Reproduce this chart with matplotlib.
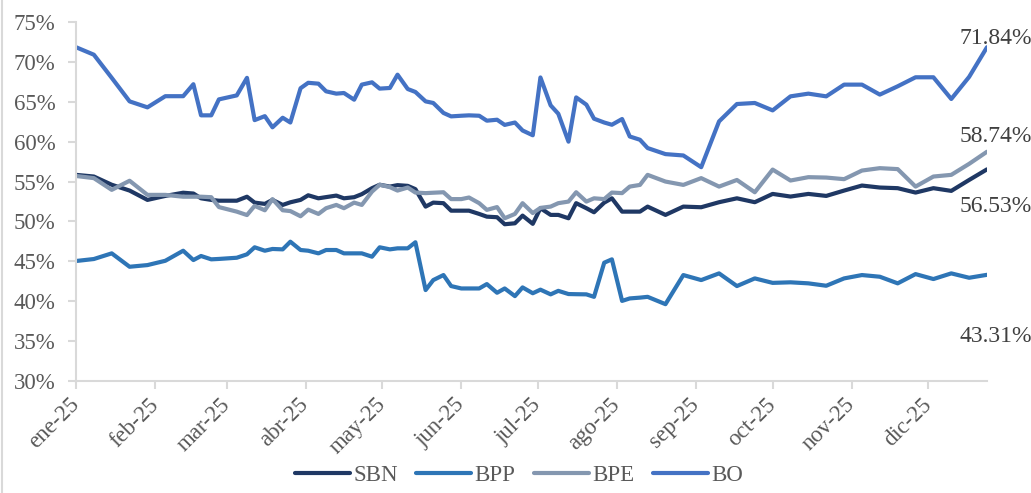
import matplotlib
matplotlib.use("Agg")
import matplotlib.pyplot as plt
from matplotlib.lines import Line2D
from matplotlib.ticker import FuncFormatter
from datetime import date

plt.rcParams["font.family"] = ["Liberation Serif", "DejaVu Serif"]

# Fechas de observación (2025)
fechas = [
    "2025-01-02", "2025-01-09", "2025-01-16", "2025-01-23", "2025-01-30",
    "2025-02-06", "2025-02-13", "2025-02-17", "2025-02-20", "2025-02-24",
    "2025-02-27", "2025-03-06", "2025-03-10", "2025-03-13", "2025-03-17",
    "2025-03-20", "2025-03-24", "2025-03-27", "2025-03-31", "2025-04-03",
    "2025-04-07", "2025-04-10", "2025-04-14", "2025-04-17", "2025-04-21",
    "2025-04-24", "2025-04-28", "2025-05-01", "2025-05-05", "2025-05-08",
    "2025-05-12", "2025-05-15", "2025-05-19", "2025-05-22", "2025-05-26",
    "2025-05-29", "2025-06-02", "2025-06-05", "2025-06-09", "2025-06-12",
    "2025-06-16", "2025-06-19", "2025-06-23", "2025-06-26", "2025-06-30",
    "2025-07-03", "2025-07-07", "2025-07-10", "2025-07-14", "2025-07-17",
    "2025-07-21", "2025-07-24", "2025-07-28", "2025-07-31", "2025-08-04",
    "2025-08-07", "2025-08-11", "2025-08-14", "2025-08-21", "2025-08-28",
    "2025-09-04", "2025-09-11", "2025-09-18", "2025-09-25", "2025-10-02",
    "2025-10-09", "2025-10-16", "2025-10-23", "2025-10-30", "2025-11-06",
    "2025-11-13", "2025-11-20", "2025-11-27", "2025-12-04", "2025-12-11",
    "2025-12-18", "2025-12-25",
]

# Series en porcentaje
sbn = [
    55.84, 55.63, 54.60, 53.87, 52.70, 53.20, 53.60, 53.50, 52.90, 52.70,
    52.60, 52.60, 53.10, 52.36, 52.20, 52.70, 52.07, 52.40, 52.70, 53.28,
    52.90, 53.05, 53.24, 52.90, 53.04, 53.42, 54.17, 54.60, 54.37, 54.55,
    54.46, 54.05, 51.86, 52.36, 52.29, 51.35, 51.35, 51.35, 50.94, 50.60,
    50.53, 49.65, 49.77, 50.73, 49.70, 51.66, 50.82, 50.82, 50.40, 52.29,
    51.66, 51.15, 52.36, 52.90, 51.23, 51.23, 51.23, 51.86, 50.82, 51.86,
    51.78, 52.41, 52.90, 52.41, 53.45, 53.12, 53.45, 53.20, 53.87, 54.50,
    54.25, 54.17, 53.62, 54.17, 53.83, 55.20, 56.53,
]
bpp = [
    45.04, 45.29, 46.00, 44.32, 44.53, 45.07, 46.33, 45.16, 45.67, 45.25,
    45.30, 45.45, 45.88, 46.76, 46.33, 46.55, 46.50, 47.46, 46.42, 46.33,
    46.00, 46.42, 46.42, 46.00, 46.00, 46.00, 45.58, 46.76, 46.50, 46.63,
    46.63, 47.39, 41.40, 42.65, 43.28, 41.90, 41.60, 41.60, 41.60, 42.15,
    41.06, 41.60, 40.64, 41.73, 41.00, 41.45, 40.86, 41.30, 40.90, 40.88,
    40.86, 40.55, 44.83, 45.25, 40.04, 40.35, 40.45, 40.55, 39.63, 43.28,
    42.65, 43.49, 41.90, 42.86, 42.30, 42.37, 42.24, 41.94, 42.86, 43.28,
    43.07, 42.24, 43.40, 42.78, 43.49, 42.94, 43.31,
]
bpe = [
    55.70, 55.43, 53.96, 55.10, 53.33, 53.33, 53.10, 53.10, 53.10, 53.04,
    51.80, 51.23, 50.80, 51.95, 51.40, 52.80, 51.40, 51.30, 50.65, 51.48,
    50.94, 51.66, 52.07, 51.66, 52.36, 52.07, 53.74, 54.60, 54.30, 53.87,
    54.25, 53.62, 53.55, 53.60, 53.66, 52.80, 52.80, 53.00, 52.29, 51.45,
    51.80, 50.40, 50.94, 52.29, 51.05, 51.70, 51.86, 52.29, 52.49, 53.66,
    52.49, 52.90, 52.80, 53.62, 53.55, 54.37, 54.58, 55.84, 55.00, 54.58,
    55.43, 54.37, 55.20, 53.66, 56.50, 55.13, 55.55, 55.50, 55.30, 56.38,
    56.68, 56.56, 54.37, 55.63, 55.84, 57.22, 58.74,
]
bo = [
    71.84, 70.90, 68.00, 65.05, 64.30, 65.70, 65.70, 67.20, 63.30, 63.30,
    65.30, 65.80, 68.00, 62.70, 63.20, 61.80, 63.00, 62.40, 66.70, 67.38,
    67.27, 66.31, 66.02, 66.10, 65.26, 67.15, 67.44, 66.65, 66.73, 68.40,
    66.60, 66.23, 65.05, 64.85, 63.60, 63.17, 63.25, 63.30, 63.25, 62.63,
    62.75, 62.10, 62.40, 61.40, 60.80, 68.05, 64.55, 63.50, 60.00, 65.55,
    64.64, 62.88, 62.40, 62.12, 62.84, 60.65, 60.24, 59.20, 58.44, 58.27,
    56.80, 62.54, 64.72, 64.85, 63.92, 65.68, 66.02, 65.68, 67.15, 67.15,
    65.90, 66.94, 68.07, 68.07, 65.35, 68.12, 71.84,
]

series = ["SBN", "BPP", "BPE", "BO"]
meses = ["ene-25", "feb-25", "mar-25", "abr-25", "may-25", "jun-25",
         "jul-25", "ago-25", "sep-25", "oct-25", "nov-25", "dic-25"]

colores = {"SBN": "#1F3864", "BPP": "#2E75B6", "BPE": "#8497B0", "BO": "#4472C4"}
# desplazamiento (px) de la etiqueta del último valor
etiqueta_offset = {"SBN": (9, -37), "BPP": (9, -62), "BPE": (9, 15), "BO": (9, 9)}

x = [date.fromisoformat(f) for f in fechas]
valores = {"SBN": sbn, "BPP": bpp, "BPE": bpe, "BO": bo}

gris_texto = "#595959"
gris_eje = "#D9D9D9"
tam = 16.5

fig = plt.figure(figsize=(10.31, 4.93), dpi=100)
ax = fig.add_axes([76 / 1031, 112 / 493, 911 / 1031, 359 / 493])

# borde izquierdo del área del gráfico
fig.add_artist(Line2D([1.5 / 1031, 1.5 / 1031], [0, 1], color=gris_eje,
                      lw=1.5, transform=fig.transFigure))

for nombre in series:
    ax.plot(x, valores[nombre], color=colores[nombre], lw=3.0,
            solid_joinstyle="round", solid_capstyle="round", label=nombre)

for nombre in series:
    v = valores[nombre][-1]
    ax.annotate(f"{v:.2f}%", xy=(x[-1], v), xytext=etiqueta_offset[nombre],
                textcoords="offset pixels", ha="center", va="center",
                fontsize=17, color="#404040", annotation_clip=False)

ax.set_ylim(30, 75)
ax.set_yticks(range(30, 80, 5))
ax.yaxis.set_major_formatter(FuncFormatter(lambda v, _: f"{v:.0f}%"))

ax.set_xlim(x[0], x[-1])
ticks_mes = [date(2025, m, 2) for m in range(1, 13)]
ax.set_xticks(ticks_mes)
ax.set_xticklabels(meses, rotation=45, ha="right", va="center",
                   rotation_mode="anchor")

for s in ["top", "right"]:
    ax.spines[s].set_visible(False)
for s in ["left", "bottom"]:
    ax.spines[s].set_color(gris_eje)
    ax.spines[s].set_linewidth(1.5)

ax.tick_params(axis="both", colors=gris_eje, length=5.8, width=1.5,
               labelcolor=gris_texto, labelsize=tam)
ax.tick_params(axis="x", pad=9)
ax.tick_params(axis="y", pad=9)

ax.legend(loc="center", bbox_to_anchor=(519 / 1031, 18 / 493),
          bbox_transform=fig.transFigure, ncol=4, frameon=False,
          fontsize=tam, labelcolor=gris_texto, handlelength=2.4,
          handletextpad=0.15, columnspacing=0.8)

fig.savefig("out.png", dpi=100)
